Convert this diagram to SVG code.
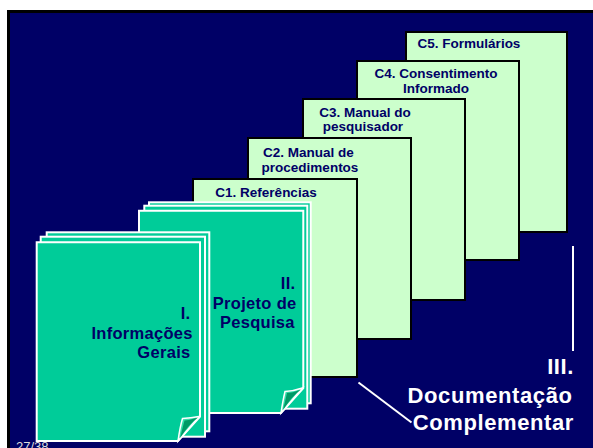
<svg xmlns="http://www.w3.org/2000/svg" width="593" height="448" viewBox="0 0 593 448">
<style>
.card{fill:#CCFFCC;stroke:#000;stroke-width:2}
.ct{font-family:"Liberation Sans",Arial,sans-serif;font-weight:bold;font-size:13.5px;fill:#000066;text-anchor:middle}
.page{fill:#00CC99;stroke:#fff;stroke-width:2}
.pt{font-family:"Liberation Sans",Arial,sans-serif;font-weight:bold;font-size:16.5px;letter-spacing:0.3px;fill:#000066;text-anchor:end}
.wt{font-family:"Liberation Sans",Arial,sans-serif;font-weight:bold;font-size:22px;letter-spacing:0.6px;fill:#fff;text-anchor:end}
.flapL{fill:#33DDAA;stroke:#fff;stroke-width:1.5}
.flapD{fill:#009966}
</style>
<rect x="0" y="0" width="593" height="448" fill="#fff"/>
<rect x="7" y="10" width="586" height="438" fill="#000"/>
<rect x="10" y="13" width="583" height="435" fill="#000066"/>

<g id="c5"><rect class="card" x="406" y="32" width="161" height="200"/><text class="ct" x="469" y="48">C5. Formulários</text></g>
<g id="c4"><rect class="card" x="357" y="61" width="162" height="199"/><text class="ct" x="436" y="78">C4. Consentimento</text><text class="ct" x="436" y="92.5">Informado</text></g>
<g id="c3"><rect class="card" x="303" y="99" width="162" height="201"/><text class="ct" x="365" y="116.5">C3. Manual do</text><text class="ct" x="363" y="130.5">pesquisador</text></g>
<g id="c2"><rect class="card" x="248" y="138" width="163" height="201"/><text class="ct" x="308.5" y="156.5">C2. Manual de</text><text class="ct" x="310" y="171.5">procedimentos</text></g>
<g id="c1"><rect class="card" x="193" y="179" width="164" height="198"/><text class="ct" x="266" y="196.5">C1. Referências</text></g>

<g id="page2">
<rect class="page" x="149" y="202.3" width="161.7" height="201"/>
<rect class="page" x="144.3" y="205.7" width="163" height="203"/>
<path class="page" d="M139 210.7 H303.3 V388 L281 413 H139 Z"/>
<path class="flapL" d="M281 413 Q283 400 285 391.5 Q294 391 302.3 388 Z"/>
<path class="flapD" d="M283 410 Q292 396 301 389.5 Q292 393 287 393 Q285 402 283 410 Z"/>
<text class="pt" x="295.5" y="289.3">II.</text>
<text class="pt" x="296.5" y="309">Projeto de</text>
<text class="pt" x="294.8" y="328.3">Pesquisa</text>
</g>

<g id="page1">
<rect class="page" x="46.7" y="232.3" width="162.6" height="199"/>
<rect class="page" x="40.7" y="236.7" width="164.3" height="200"/>
<path class="page" d="M36.7 242.3 H200 V416.5 L178 441 H36.7 Z"/>
<path class="flapL" d="M178 441 Q180 427 182.5 418.5 Q191 418 199 416.5 Z"/>
<path class="flapD" d="M180 438 Q189 424 198 417.5 Q190 420 184.5 420.5 Q182 430 180 438 Z"/>
<text class="pt" x="190.5" y="319.3">I.</text>
<text class="pt" x="192.8" y="338.7">Informações</text>
<text class="pt" x="190.5" y="358.3">Gerais</text>
</g>

<g id="connectors">
<line x1="573" y1="246" x2="573" y2="351" stroke="#fff" stroke-width="2"/>
<line x1="358.5" y1="382.5" x2="411.5" y2="422.5" stroke="#fff" stroke-width="2"/>
</g>

<g id="label3">
<text class="wt" x="574" y="374.3">III.</text>
<text class="wt" x="572.5" y="402.7">Documentação</text>
<text class="wt" x="574" y="430">Complementar</text>
</g>

<text x="16" y="451" font-family="Liberation Sans,Arial,sans-serif" font-size="13px" fill="#ddd">27/38</text>
</svg>
